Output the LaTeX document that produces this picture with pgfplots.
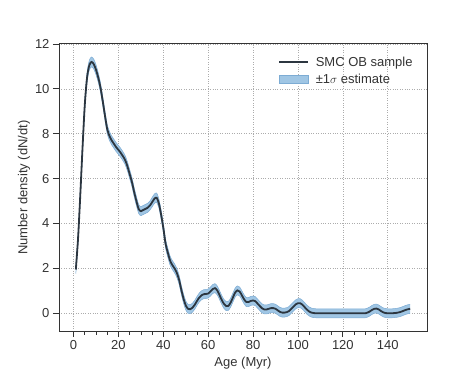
\documentclass[border=0pt]{standalone}
\usepackage{fontspec}
\setmainfont{Liberation Sans}
\usepackage{pgfplots}
\usepackage{pgfplotstable}
\pgfplotsset{compat=1.18}
\usepgfplotslibrary{fillbetween}

\definecolor{kdeline}{RGB}{44,54,64}
\definecolor{bandfill}{RGB}{160,198,228}
\definecolor{bandedge}{RGB}{125,172,212}
\definecolor{spine}{RGB}{51,51,51}

\pgfplotsset{
  lineleg/.style={legend image code/.code={\draw[##1, line width=1.6pt] (0cm,0cm) -- (1cm,0cm); \path (1.2cm,0cm);}},
  bandleg/.style={legend image code/.code={\draw[##1] (0cm,-0.15cm) rectangle (1cm,0.15cm); \path (1.2cm,0cm);}},
}

% age, density, 1-sigma half width
\pgfplotstableread{
x n e
1 1.95 0.18
2 3.35 0.18
3 5.3 0.19
4 7.4 0.2
5 9.3 0.21
6 10.5 0.22
7 11.05 0.22
8 11.2 0.22
9 11.1 0.22
10 10.85 0.22
11 10.5 0.21
12 10.05 0.21
13 9.45 0.2
14 8.8 0.2
15 8.2 0.2
16 7.9 0.2
17 7.7 0.2
18 7.55 0.2
19 7.4 0.2
20 7.28 0.2
21 7.15 0.2
22 7.0 0.2
23 6.82 0.2
24 6.55 0.2
25 6.2 0.2
26 5.85 0.2
27 5.4 0.2
28 5.0 0.2
29 4.65 0.2
30 4.55 0.2
31 4.6 0.2
32 4.65 0.2
33 4.7 0.2
34 4.8 0.2
35 4.95 0.21
36 5.1 0.21
37 5.15 0.21
38 4.9 0.2
39 4.4 0.2
40 3.8 0.2
41 3.1 0.2
42 2.7 0.2
43 2.35 0.2
44 2.15 0.2
45 2.0 0.2
46 1.8 0.2
47 1.5 0.2
48 1.05 0.2
49 0.65 0.2
50 0.35 0.2
51 0.2 0.2
52 0.18 0.2
53 0.25 0.2
54 0.38 0.2
55 0.55 0.2
56 0.7 0.2
57 0.8 0.2
58 0.85 0.2
59 0.86 0.2
60 0.88 0.2
61 0.97 0.2
62 1.08 0.2
63 1.12 0.2
64 1.02 0.2
65 0.82 0.2
66 0.6 0.2
67 0.42 0.2
68 0.32 0.2
69 0.33 0.2
70 0.48 0.2
71 0.7 0.2
72 0.92 0.2
73 1.02 0.2
74 0.97 0.2
75 0.8 0.2
76 0.62 0.2
77 0.5 0.2
78 0.5 0.2
79 0.55 0.2
80 0.57 0.2
81 0.54 0.2
82 0.43 0.2
83 0.32 0.2
84 0.22 0.2
85 0.17 0.2
86 0.17 0.2
87 0.2 0.2
88 0.23 0.2
89 0.23 0.2
90 0.2 0.2
91 0.13 0.2
92 0.06 0.2
93 0.03 0.2
94 0.03 0.2
95 0.05 0.2
96 0.1 0.2
97 0.2 0.2
98 0.3 0.2
99 0.4 0.2
100 0.45 0.2
101 0.45 0.2
102 0.38 0.2
103 0.27 0.2
104 0.16 0.2
105 0.08 0.2
106 0.03 0.2
107 0.01 0.2
108 0.0 0.2
112 0.0 0.2
116 0.0 0.2
120 0.0 0.2
124 0.0 0.2
128 0.0 0.2
130 0.0 0.2
131 0.03 0.2
132 0.08 0.2
133 0.15 0.2
134 0.2 0.2
135 0.21 0.2
136 0.17 0.2
137 0.1 0.2
138 0.04 0.2
139 0.01 0.2
140 0.0 0.2
141 0.0 0.2
142 0.0 0.2
143 0.01 0.2
144 0.02 0.2
145 0.04 0.2
146 0.07 0.2
147 0.11 0.2
148 0.15 0.2
149 0.18 0.2
150 0.2 0.2
}\kde

\begin{document}
\begin{tikzpicture}
\begin{axis}[
  scale only axis,
  width=368pt, height=287pt,
  xmin=-6.5, xmax=157.5,
  ymin=-0.79, ymax=12,
  xtick={0,20,...,140},
  ytick={0,2,...,12},
  minor x tick num=3,
  tick pos=left,
  tick align=outside,
  major tick length=6pt,
  minor tick length=3.5pt,
  every tick/.style={spine, line width=0.8pt},
  axis line style={spine, line width=1pt},
  grid=major,
  major grid style={gray!65, dotted, line width=0.7pt},
  /pgf/number format/assume math mode=true,
  tick label style={font=\fontsize{13}{15.5}\selectfont, text=black!80},
  label style={font=\fontsize{13}{15.5}\selectfont, text=black!80},
  xlabel={Age (Myr)},
  ylabel={Number density (dN/dt)},
  xlabel style={yshift=-0.5pt},
  ylabel style={yshift=-2pt},
  legend cell align=left,
  legend style={draw=none, fill=none, at={(0.975,0.97)}, anchor=north east,
    font=\fontsize{13}{15.5}\selectfont, text=black!80, row sep=2pt},
]
\addlegendimage{kdeline, lineleg}
\addlegendentry{SMC OB sample}
\addlegendimage{fill=bandfill, draw=bandedge, bandleg}
\addlegendentry{±1$\sigma$ estimate}

\addplot[name path=hi, draw=bandedge, line width=0.5pt, smooth, forget plot]
  table[x=x, y expr=\thisrow{n}+\thisrow{e}] {\kde};
\addplot[name path=lo, draw=bandedge, line width=0.5pt, smooth, forget plot]
  table[x=x, y expr=\thisrow{n}-\thisrow{e}] {\kde};
\addplot[bandfill, forget plot] fill between[of=hi and lo];
\addplot[kdeline, line width=1.8pt, smooth, forget plot] table[x=x, y=n] {\kde};
\end{axis}
\useasboundingbox (-59pt,-42pt) rectangle (415pt,331pt);
\end{tikzpicture}
\end{document}
